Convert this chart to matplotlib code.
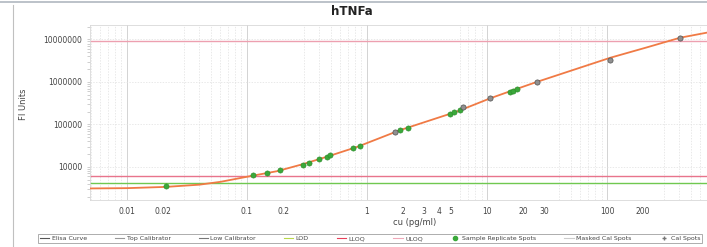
import numpy as np
import matplotlib
matplotlib.use("Agg")
import matplotlib.pyplot as plt
from matplotlib.lines import Line2D
from matplotlib.ticker import FixedLocator, NullFormatter, LogLocator

# fitted curve (x in pg/ml, y in FI units)
curve_x = [0.0049, 0.01, 0.021, 0.04, 0.06, 0.106, 0.178, 0.29, 0.46, 0.83,
           1.88, 5.6, 10.6, 16.5, 26, 106, 214, 406, 681]
curve_y = [3100, 3150, 3370, 3800, 4430, 6030, 7900, 11500, 17200, 29600,
           73000, 200000, 410000, 640000, 1000000, 3700000, 6500000, 11000000, 14500000]

# sample replicate spots
samp_x = [0.021, 0.112, 0.147, 0.188, 0.293, 0.33, 0.40, 0.46, 0.49, 0.77, 0.88,
          1.88, 2.2, 4.9, 5.3, 5.9, 15.6, 16.6, 17.8]
samp_y = [3450, 6360, 7200, 8350, 11000, 12000, 15500, 17500, 19500, 27500, 31000,
          73000, 82000, 180000, 195000, 215000, 590000, 625000, 665000]

# cal spots
cal_x = [1.7, 6.3, 10.6, 26, 106, 406]
cal_y = [66000, 260000, 410000, 1000000, 3300000, 10800000]

uloq = 9.0e6
lloq = 6100
lod = 4070

decades = [0.01, 0.1, 1, 10, 100]
xticks = [0.01, 0.02, 0.1, 0.2, 1, 2, 3, 4, 5, 10, 20, 30, 100, 200]
xtick_labels = ["0.01", "0.02", "0.1", "0.2", "1", "2", "3", "4", "5",
                "10", "20", "30", "100", "200"]
yticks = [1e4, 1e5, 1e6, 1e7]
ytick_labels = ["10000", "100000", "1000000", "10000000"]

legend_names = ["Elisa Curve", "Top Calibrator", "Low Calibrator", "LOD", "LLOQ",
                "ULOQ", "Sample Replicate Spots", "Masked Cal Spots", "Cal Spots"]

fig = plt.figure(figsize=(7.07, 2.47), dpi=100)
ax = fig.add_axes([0.127, 0.19, 0.873, 0.709])
ax.set_xscale("log")
ax.set_yscale("log")
ax.set_xlim(0.0049, 681)
ax.set_ylim(1650, 2.2e7)

# grid: faint dotted lines at every minor step, a bit darker at decades
ax.xaxis.set_minor_locator(LogLocator(base=10, subs=np.arange(2, 10)))
ax.yaxis.set_minor_locator(LogLocator(base=10, subs=np.arange(2, 10)))
ax.xaxis.set_minor_formatter(NullFormatter())
ax.yaxis.set_minor_formatter(NullFormatter())
ax.grid(which="minor", axis="x", color="#e0e0e0", lw=0.5, ls=(0, (2, 2)))
ax.grid(which="major", axis="y", color="#e0e0e0", lw=0.5, ls=(0, (2, 2)))
for d in decades:
    ax.axvline(d, color="#cccccc", lw=0.6, zorder=1)

ax.axhline(uloq, color="#eda0b0", lw=1.0, zorder=2)
ax.axhline(lloq, color="#e8748c", lw=1.0, zorder=2)
ax.axhline(lod, color="#70c850", lw=1.0, zorder=2)

ax.plot(curve_x, curve_y, color="#f07a45", lw=1.3, zorder=3)
ax.scatter(samp_x, samp_y, s=14, color="#3aa83a", edgecolors="#2a8a2a", lw=0.4, zorder=4)
ax.scatter(cal_x, cal_y, s=14, color="#909090", edgecolors="#505050", lw=0.5, zorder=5)

ax.xaxis.set_major_locator(FixedLocator(xticks))
ax.set_xticklabels(xtick_labels)
ax.set_yticks(yticks)
ax.set_yticklabels(ytick_labels)
ax.tick_params(axis="both", which="both", labelsize=5.5, colors="#bbbbbb",
               labelcolor="#444444", length=2, width=0.5)
ax.tick_params(axis="x", which="both", length=0, pad=5)
for s in ax.spines.values():
    s.set_color("#d8d8d8")
    s.set_linewidth(0.6)

ax.set_xlabel("cu (pg/ml)", fontsize=6, color="#444444")
ax.xaxis.set_label_coords(0.527, -0.1)
ax.xaxis.label.set_va("top")
ax.set_ylabel("FI Units", fontsize=6, color="#444444")
ax.yaxis.set_label_coords(-0.1, 0.55)

fig.text(0.497, 0.952, "hTNFa", ha="center", va="center", fontsize=8.5,
         fontweight="bold", color="#222222")

handles = [
    Line2D([], [], color="#555555", lw=0.8),
    Line2D([], [], color="#999999", lw=0.8),
    Line2D([], [], color="#777777", lw=0.8),
    Line2D([], [], color="#b8d84a", lw=0.8),
    Line2D([], [], color="#e8405a", lw=0.8),
    Line2D([], [], color="#f0a8b8", lw=0.8),
    Line2D([], [], color="#3aa83a", marker="o", ls="none", ms=3),
    Line2D([], [], color="#cccccc", lw=0.8),
    Line2D([], [], color="#777777", marker="+", ls="none", ms=3),
]
leg = fig.legend(handles, legend_names, ncol=9, loc="lower left",
                 bbox_to_anchor=(0.05, 0.005, 0.948, 0.055), mode="expand",
                 fontsize=4.5, frameon=True, fancybox=False, handlelength=1.5,
                 handletextpad=0.4, borderpad=0.25, columnspacing=0.6)
leg.get_frame().set_edgecolor("#888888")
leg.get_frame().set_linewidth(0.6)
for t in leg.get_texts():
    t.set_color("#444444")

# outer panel border
fig.add_artist(Line2D([0.018, 0.018], [0.0, 0.98], color="#c0c0c0", lw=0.8))
fig.add_artist(Line2D([0.0, 1.0], [0.992, 0.992], color="#b0b8c0", lw=1.2))

fig.savefig("out.png", dpi=100)
